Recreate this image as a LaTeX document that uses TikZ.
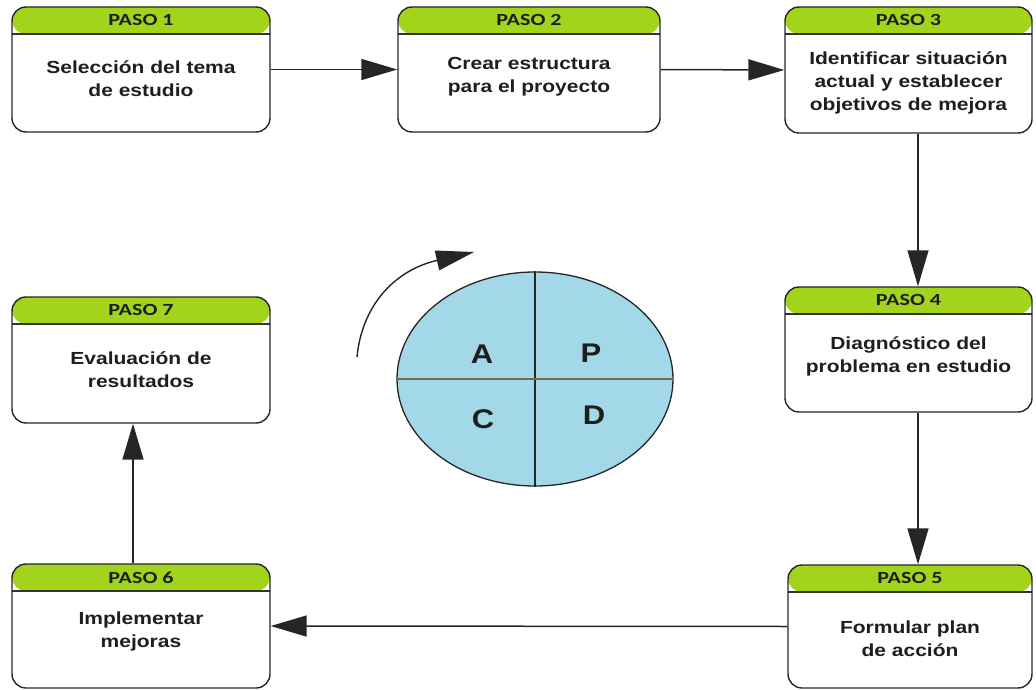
\documentclass[tikz,border=0pt]{standalone}
\usepackage{fontspec}
\setmainfont[FakeStretch=1.2]{Liberation Sans}
\newfontfamily\headfont[FakeStretch=1.3]{Carlito}
\newfontfamily\letterfont[FakeStretch=1.15]{Liberation Sans}
\usetikzlibrary{arrows.meta,shapes.geometric}
\definecolor{lime}{RGB}{162,212,28}
\definecolor{cyc}{RGB}{162,216,232}
\definecolor{divline}{RGB}{125,105,70}
\definecolor{txt}{RGB}{30,30,30}
\tikzset{
  stepbox/.style={draw=black!85, line width=1.4pt, rounded corners=14pt, fill=white,
    inner sep=0pt, minimum width=#1,
    path picture={\fill[lime] (path picture bounding box.north west) rectangle ([yshift=-27pt]path picture bounding box.north east);
      \draw[black!80, line width=1.2pt] ([yshift=-27pt]path picture bounding box.north west) -- ([yshift=-27pt]path picture bounding box.north east);}},
  head/.style={font=\headfont\fontsize{17}{17}\selectfont\bfseries, text=txt, inner sep=0pt},
  body/.style={font=\fontsize{17.5}{23}\selectfont\bfseries, text=txt, align=center, inner sep=0pt},
  letter/.style={font=\letterfont\fontsize{27}{27}\selectfont\bfseries, text=txt, inner sep=0pt},
  conn/.style={draw=black!85, line width=1.5pt, -{Triangle[length=36pt,width=21pt]}},
}
\begin{document}
\begin{tikzpicture}[x=1pt,y=-1pt]
\useasboundingbox (0,0) rectangle (1036,690);
% boxes
\node[stepbox=258pt, minimum height=125pt] (p1) at (141,69.5) {};
\node[stepbox=262pt, minimum height=125pt] (p2) at (529,69.5) {};
\node[stepbox=247pt, minimum height=126pt] (p3) at (908.5,70) {};
\node[stepbox=247pt, minimum height=125pt] (p4) at (908.5,349.5) {};
\node[stepbox=244pt, minimum height=123pt] (p5) at (910,626.5) {};
\node[stepbox=258pt, minimum height=124pt] (p6) at (141,626) {};
\node[stepbox=258pt, minimum height=126pt] (p7) at (141,360) {};
% headers
\foreach \n/\l in {p1/1,p2/2,p3/3,p4/4,p5/5,p6/6,p7/7}
  \node[head] (h\l) at ([yshift=-14pt]\n.north) {PASO \l};
% body texts
\node[body] (t1) at ([yshift=-9pt]p1.center) {Selección del tema\\de estudio};
\node[body] (t2) at ([yshift=-7pt]p2.center) {Crear estructura\\para el proyecto};
\node[body] (t3) at ([yshift=-13pt]p3.center) {Identificar situación\\actual y establecer\\objetivos de mejora};
\node[body] (t4) at ([yshift=-7pt]p4.center) {Diagnóstico del\\problema en estudio};
\node[body] (t5) at ([yshift=-12pt]p5.center) {Formular plan\\de acción};
\node[body] (t6) at ([yshift=-5pt]p6.center) {Implementar\\mejoras};
\node[body] (t7) at ([yshift=-10pt]p7.center) {Evaluación de\\resultados};
% connectors
\draw[conn] (p1.east) -- (p2.west);
\draw[conn] (p2.east) -- (p3.west);
\draw[conn] ([xshift=9.5pt]p3.south) -- ([xshift=9.5pt]p4.north);
\draw[conn] ([xshift=9.5pt]p4.south) -- ([xshift=9.5pt]p4.south |- p5.north);
\draw[conn] (p5.west) -- (p6.east);
\draw[conn] ([xshift=-8pt]p6.north) -- ([xshift=-8pt]p7.south);
% PDCA cycle
\node[draw=black!85, line width=1.3pt, fill=cyc, ellipse, inner sep=0pt,
  minimum width=276pt, minimum height=214pt] (cyc) at (535,379) {};
\draw[black!85, line width=1.2pt] (cyc.north) -- (cyc.south);
\draw[divline, line width=1.2pt] (cyc.west) -- (cyc.east);
\node[letter] (la) at (482,354) {A};
\node[letter] (lp) at (591,353) {P};
\node[letter] (lc) at (483,419) {C};
\node[letter] (ld) at (594,415) {D};
\coordinate (rs) at (357,357);
\coordinate (re) at (474,252);
\draw[draw=black!85, line width=1.4pt, -{Triangle[length=38pt,width=20pt]}]
  (rs) .. controls (362,305) and (395,270) .. (re);
\end{tikzpicture}
\end{document}
